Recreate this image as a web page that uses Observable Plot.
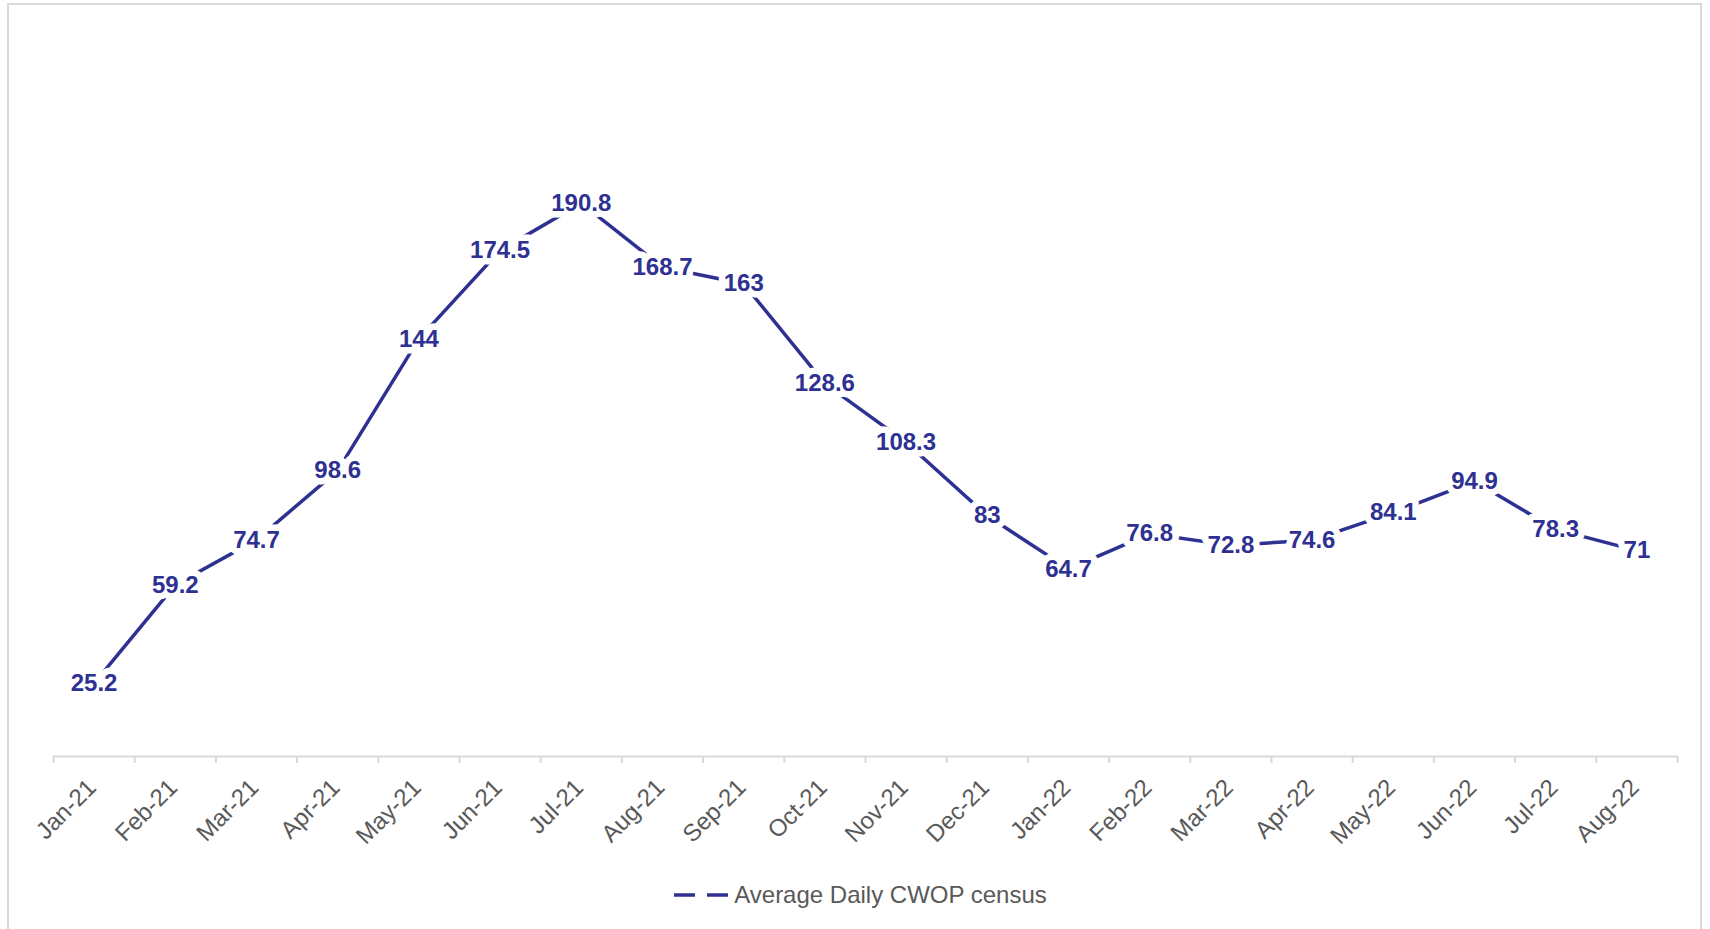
<!DOCTYPE html>
<html>
<head>
<meta charset="utf-8">
<script src="https://cdn.jsdelivr.net/npm/d3@7"></script>
<script src="https://cdn.jsdelivr.net/npm/@observablehq/plot@0.6"></script>
<style>
  html, body { margin: 0; padding: 0; overflow: hidden; background: white; width: 1710px; height: 929px; }
  #frame { position: absolute; left: 7px; top: 3px; width: 1695px; height: 940px; border: 2px solid #d9d9d9; border-bottom: none; box-sizing: border-box; }
  #chart { position: absolute; left: 0; top: 0; }
  #legend { position: absolute; left: 0; top: 870px; width: 1710px; height: 50px; display: flex; justify-content: center; align-items: center; font-family: 'Liberation Sans', Arial, sans-serif; font-size: 24px; color: #595959; padding-left: 10px; box-sizing: border-box; }
  #legend svg { margin-right: 5px; }
</style>
</head>
<body>
<div id="frame"></div>
<div id="chart"></div>
<div id="legend"></div>
<script>
const months = ["Jan-21","Feb-21","Mar-21","Apr-21","May-21","Jun-21","Jul-21","Aug-21","Sep-21","Oct-21","Nov-21","Dec-21","Jan-22","Feb-22","Mar-22","Apr-22","May-22","Jun-22","Jul-22","Aug-22"];
const census = [25.2, 59.2, 74.7, 98.6, 144, 174.5, 190.8, 168.7, 163, 128.6, 108.3, 83, 64.7, 76.8, 72.8, 74.6, 84.1, 94.9, 78.3, 71];
const seriesName = "Average Daily CWOP census";
const lineColor = "#2E3192";

const data = months.map((m, i) => ({i, m, v: census[i]}));

const chart = Plot.plot({
  width: 1710,
  height: 870,
  marginLeft: 53,
  marginRight: 33,
  marginTop: 31,
  marginBottom: 114,
  style: {background: "none", fontFamily: "'Liberation Sans', Arial, sans-serif", overflow: "visible"},
  x: {domain: [0, months.length], label: null},
  y: {domain: [0, 250], axis: null, label: null},
  marks: [
    Plot.ruleY([0], {stroke: "#d9d9d9", strokeWidth: 2}),
    Plot.axisX(d3.range(months.length + 1), {tickSize: 7, tickFormat: () => "", stroke: "#d9d9d9", strokeWidth: 2, label: null}),
    Plot.axisX(d3.range(months.length).map(i => i + 0.5), {
      tickSize: 0, tickPadding: 27, dx: -2,
      tickFormat: d => months[Math.floor(d)],
      tickRotate: -45, fontSize: 24, fill: "#595959", label: null
    }),
    Plot.line(data, {x: d => d.i + 0.5, y: "v", stroke: lineColor, strokeWidth: 3.5}),
    Plot.text(data, {
      x: d => d.i + 0.5, y: "v", text: d => String(d.v),
      fill: lineColor, fontWeight: "bold", fontSize: 24,
      stroke: "white", strokeWidth: 13, strokeLinejoin: "round"
    })
  ]
});
document.getElementById("chart").appendChild(chart);

const legend = document.getElementById("legend");
legend.innerHTML = `<svg width="56" height="10"><line x1="1" y1="5" x2="22" y2="5" stroke="${lineColor}" stroke-width="3.5"/><line x1="34" y1="5" x2="55" y2="5" stroke="${lineColor}" stroke-width="3.5"/></svg><span>${seriesName}</span>`;
</script>
</body>
</html>
